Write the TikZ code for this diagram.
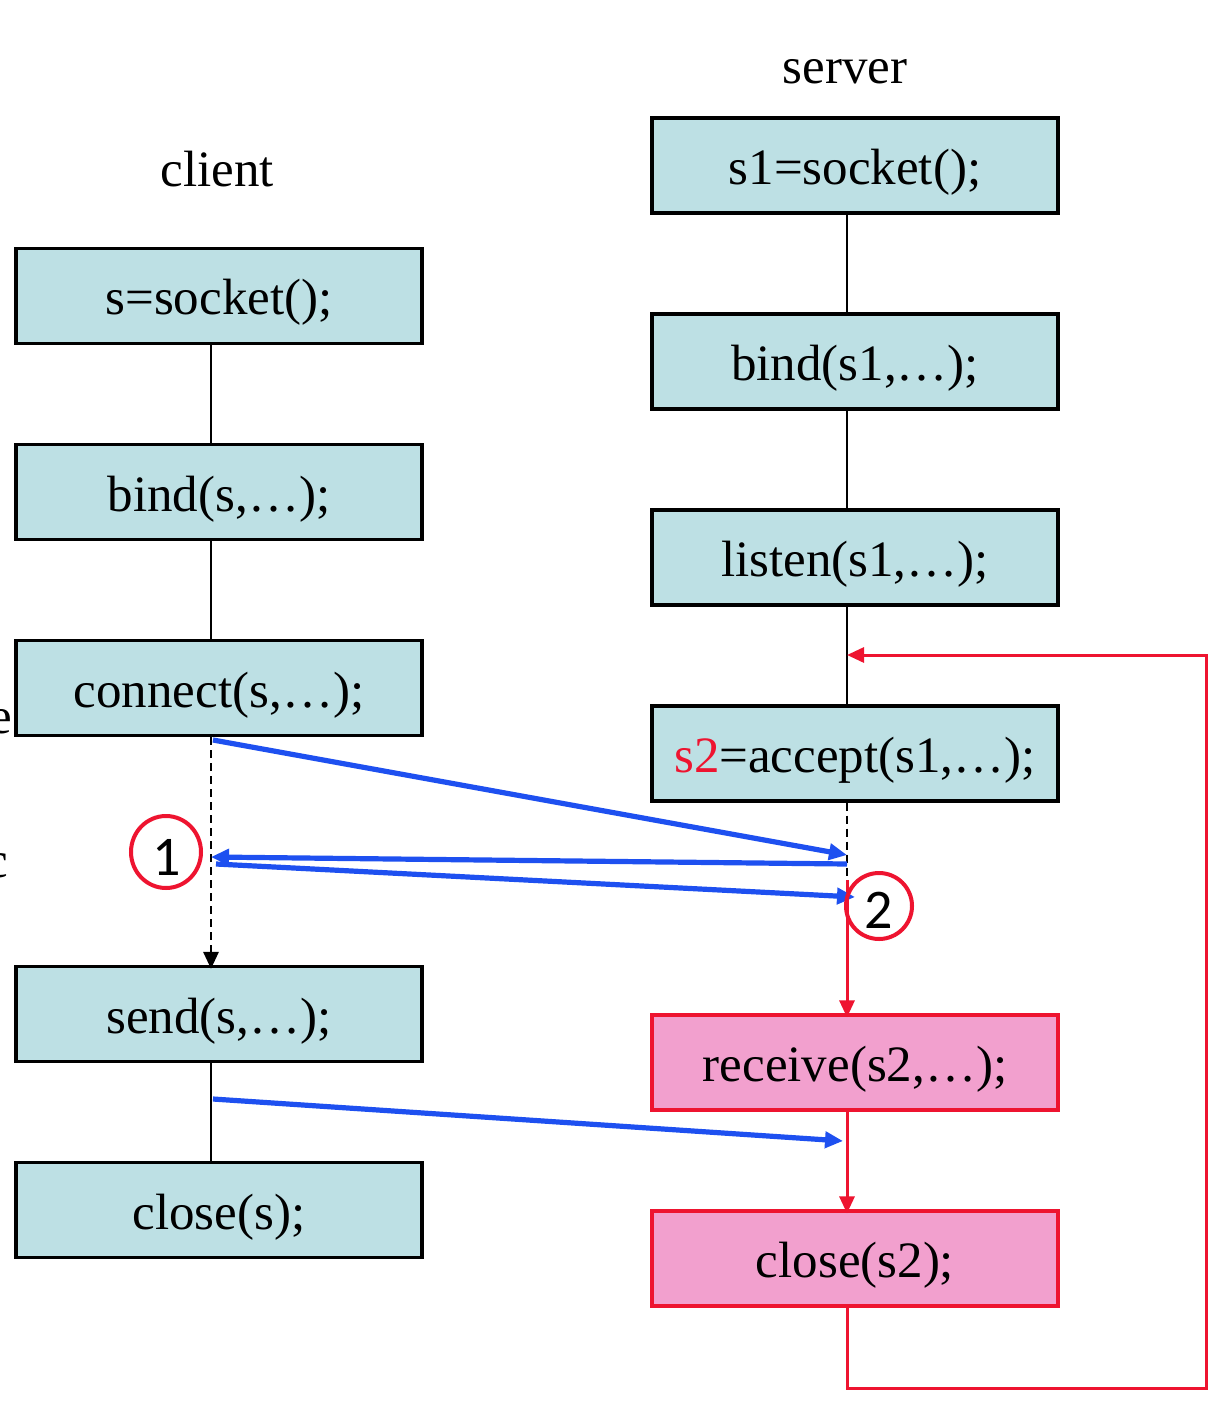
\documentclass[tikz,border=0pt]{standalone}
\usepackage{fontspec}
\setmainfont{Liberation Serif}
\newfontfamily\numfont{Carlito}
\usetikzlibrary{arrows.meta,calc}
\definecolor{boxblue}{RGB}{189,224,228}
\definecolor{boxpink}{RGB}{242,160,206}
\definecolor{myred}{RGB}{238,20,48}
\definecolor{myblue}{RGB}{30,80,240}
\begin{document}
\begin{tikzpicture}[x=1pt,y=-1pt,
  font=\fontsize{51}{60}\selectfont,
  cbox/.style={draw=black,line width=3.2pt,fill=boxblue,minimum width=406pt,minimum height=95pt,inner sep=0pt,text height=41pt,text depth=3pt},
  pbox/.style={draw=myred,line width=3.2pt,fill=boxpink,minimum width=406pt,minimum height=95pt,inner sep=0pt,text height=41pt,text depth=3pt},
  conn/.style={line width=2.8pt,black},
  blue arrow/.style={line width=5.2pt,myblue,-{Triangle[length=18pt,width=16pt]}},
  red line/.style={line width=3pt,myred},
  ring/.style={draw=myred,line width=4pt},
  num/.style={font=\numfont\fontsize{56}{60}\selectfont}]
\useasboundingbox (0,0) rectangle (1228,1404);
\fill[white] (0,0) rectangle (1228,1404);

% labels
\node (lclient) at (217,169) {client};
\node (lserver) at (845,72) {server};
\node[anchor=base east] (cute) at (16,733) {e};
\node[anchor=base east] (cutc) at (12,877) {c};

% client boxes
\node[cbox] (c1) at (219,296) {s=socket();};
\node[cbox] (c2) at (219,492) {bind(s,…);};
\node[cbox] (c3) at (219,688) {connect(s,…);};
\node[cbox] (c4) at (219,1014) {send(s,…);};
\node[cbox] (c5) at (219,1210) {close(s);};

% server boxes
\node[cbox] (s1) at (855,165.5) {s1=socket();};
\node[cbox] (s2) at (855,361.5) {bind(s1,…);};
\node[cbox] (s3) at (855,557.5) {listen(s1,…);};
\node[cbox] (s4) at (855,753.5) {\textcolor{myred}{s2}=accept(s1,…);};
\node[pbox] (s5) at (855,1062.5) {receive(s2,…);};
\node[pbox] (s6) at (855,1258.5) {close(s2);};

% client connectors
\draw[conn] ([xshift=-8pt]c1.south) -- ([xshift=-8pt]c2.north);
\draw[conn] ([xshift=-8pt]c2.south) -- ([xshift=-8pt]c3.north);
\draw[conn,dashed,dash pattern=on 8pt off 5pt,-{Triangle[length=17pt,width=15pt]}] ([xshift=-8pt]c3.south) -- ([xshift=-8pt,yshift=-4pt]c4.north);
\draw[conn] ([xshift=-8pt]c4.south) -- ([xshift=-8pt]c5.north);

% server connectors
\draw[conn] ([xshift=-8pt]s1.south) -- ([xshift=-8pt]s2.north);
\draw[conn] ([xshift=-8pt]s2.south) -- ([xshift=-8pt]s3.north);
\draw[conn] ([xshift=-8pt]s3.south) -- ([xshift=-8pt]s4.north);
\coordinate (sdash) at (847,880);
\draw[conn,dashed,dash pattern=on 8pt off 5pt] ([xshift=-8pt]s4.south) -- (sdash);
\draw[red line,-{Triangle[length=17pt,width=15pt]}] (sdash) -- ([xshift=-8pt,yshift=-4pt]s5.north);
\draw[red line,-{Triangle[length=17pt,width=15pt]}] ([xshift=-8pt]s5.south) -- ([xshift=-8pt,yshift=-4pt]s6.north);

% loop back
\coordinate (loopin) at (847,655);
\coordinate (loopcorner) at (1206,1388);
\draw[red line,-{Triangle[length=17pt,width=15pt]}] ([xshift=-8pt]s6.south) |- (loopcorner) |- (loopin);

% blue message arrows
\coordinate (a1s) at (213,740);
\coordinate (a1e) at (847,855);
\coordinate (a2s) at (847,864);
\coordinate (a2e) at (211,857);
\coordinate (a3s) at (216,864);
\coordinate (a3e) at (855,897);
\coordinate (a4s) at (213,1099);
\coordinate (a4e) at (843,1141);
\draw[blue arrow] (a1s) -- (a1e);
\draw[blue arrow] (a2s) -- (a2e);
\draw[blue arrow] (a3s) -- (a3e);
\draw[blue arrow] (a4s) -- (a4e);

% circled numbers
\node[num] (n1) at (167,857) {1};
\draw[ring] (166,852) ellipse [x radius=35pt,y radius=36pt];
\node[num] (n2) at (879,910) {2};
\draw[ring] (879,906) ellipse [x radius=33pt,y radius=33pt];
\end{tikzpicture}
\end{document}
